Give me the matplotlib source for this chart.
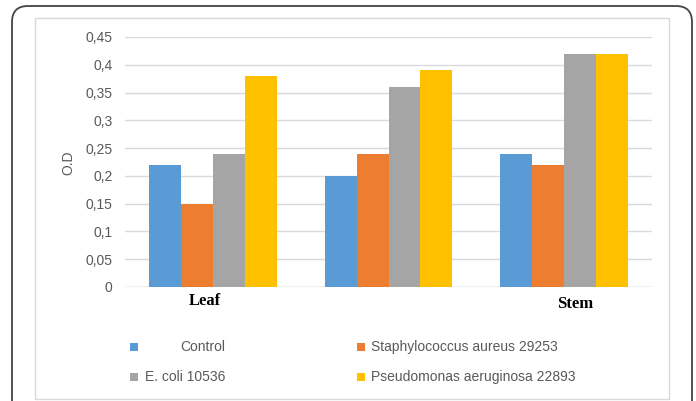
import matplotlib
matplotlib.use("Agg")
import matplotlib.pyplot as plt
import numpy as np
from matplotlib.patches import FancyBboxPatch, Rectangle
from matplotlib.transforms import IdentityTransform

# Data
categories = ["Leaf", "", "Stem"]
series_names = ["Control", "Staphylococcus aureus 29253",
                "E. coli 10536", "Pseudomonas aeruginosa 22893"]
control = [0.22, 0.20, 0.24]
staph = [0.15, 0.24, 0.22]
ecoli = [0.24, 0.36, 0.42]
pseudo = [0.38, 0.39, 0.42]
yticks = [0, 0.05, 0.1, 0.15, 0.2, 0.25, 0.3, 0.35, 0.4, 0.45]
ytick_labels = ["0", "0,05", "0,1", "0,15", "0,2", "0,25", "0,3", "0,35", "0,4", "0,45"]

colors = ["#5B9BD5", "#ED7D31", "#A5A5A5", "#FFC000"]
text_color = "#595959"
font = ["Liberation Sans", "DejaVu Sans"]
plt.rcParams["font.family"] = font

W, H = 696, 401
fig = plt.figure(figsize=(W / 100, H / 100), dpi=100)

# frames around the chart (pixel coordinates)
outer = FancyBboxPatch((12, -30), 680, H - 6 + 30,
                       boxstyle="round,pad=0,rounding_size=16",
                       transform=IdentityTransform(), fill=False,
                       edgecolor="#444444", linewidth=1.3)
fig.add_artist(outer)
inner = Rectangle((35, H - 399), 634, 399 - 18, transform=IdentityTransform(),
                  fill=False, edgecolor="#D9D9D9", linewidth=1.0)
fig.add_artist(inner)

# axes area: x 125..652, y 37..287 px
ax = fig.add_axes([125 / W, 1 - 287 / H, (652 - 125) / W, (287 - 37) / H])
x = np.arange(len(categories))
bw = 0.182
all_series = [control, staph, ecoli, pseudo]
for i, (vals, c) in enumerate(zip(all_series, colors)):
    ax.bar(x + (i - 1.5) * bw, vals, width=bw, color=c, label=series_names[i],
           zorder=3, edgecolor="none")

ax.set_xlim(-0.5, 2.5)
ax.set_ylim(0, 0.45)
ax.set_yticks(yticks)
ax.set_yticklabels(ytick_labels, fontsize=10, color=text_color)
ax.tick_params(axis="y", length=0, pad=9)
ax.set_xticks([])
ax.grid(axis="y", color="#D9D9D9", linewidth=1.0, zorder=0)
for s in ax.spines.values():
    s.set_visible(False)
ax.axhline(0, color="#D9D9D9", linewidth=1.0, zorder=2)

# category labels
label_offsets = [-0.045, 0.0, 0.063]
label_drop = [14, 0, 17]
for xi, cat, off, drop in zip(x, categories, label_offsets, label_drop):
    if cat:
        ax.annotate(cat, xy=(xi + off, 0), xycoords="data",
                    xytext=(0, -drop), textcoords="offset pixels",
                    ha="center", va="center", fontsize=12, fontweight="bold",
                    family="Liberation Serif", color="#000000")

fig.text(68 / W, 1 - 163 / H, "O.D", rotation=90, ha="center", va="center",
         fontsize=10, color=text_color)

# legend (two columns, manual placement)
legend_pos = [(130, 347, 180), (357, 347, 371), (130, 377, 145), (357, 377, 371)]
for (mx, my, tx), name, c in zip(legend_pos, series_names, colors):
    fig.add_artist(Rectangle((mx, H - my - 4), 8, 8, transform=IdentityTransform(),
                             facecolor=c, edgecolor="none"))
    fig.text(tx / W, 1 - my / H, name, ha="left", va="center", fontsize=10,
             color=text_color)

fig.savefig("out.png", dpi=100)
